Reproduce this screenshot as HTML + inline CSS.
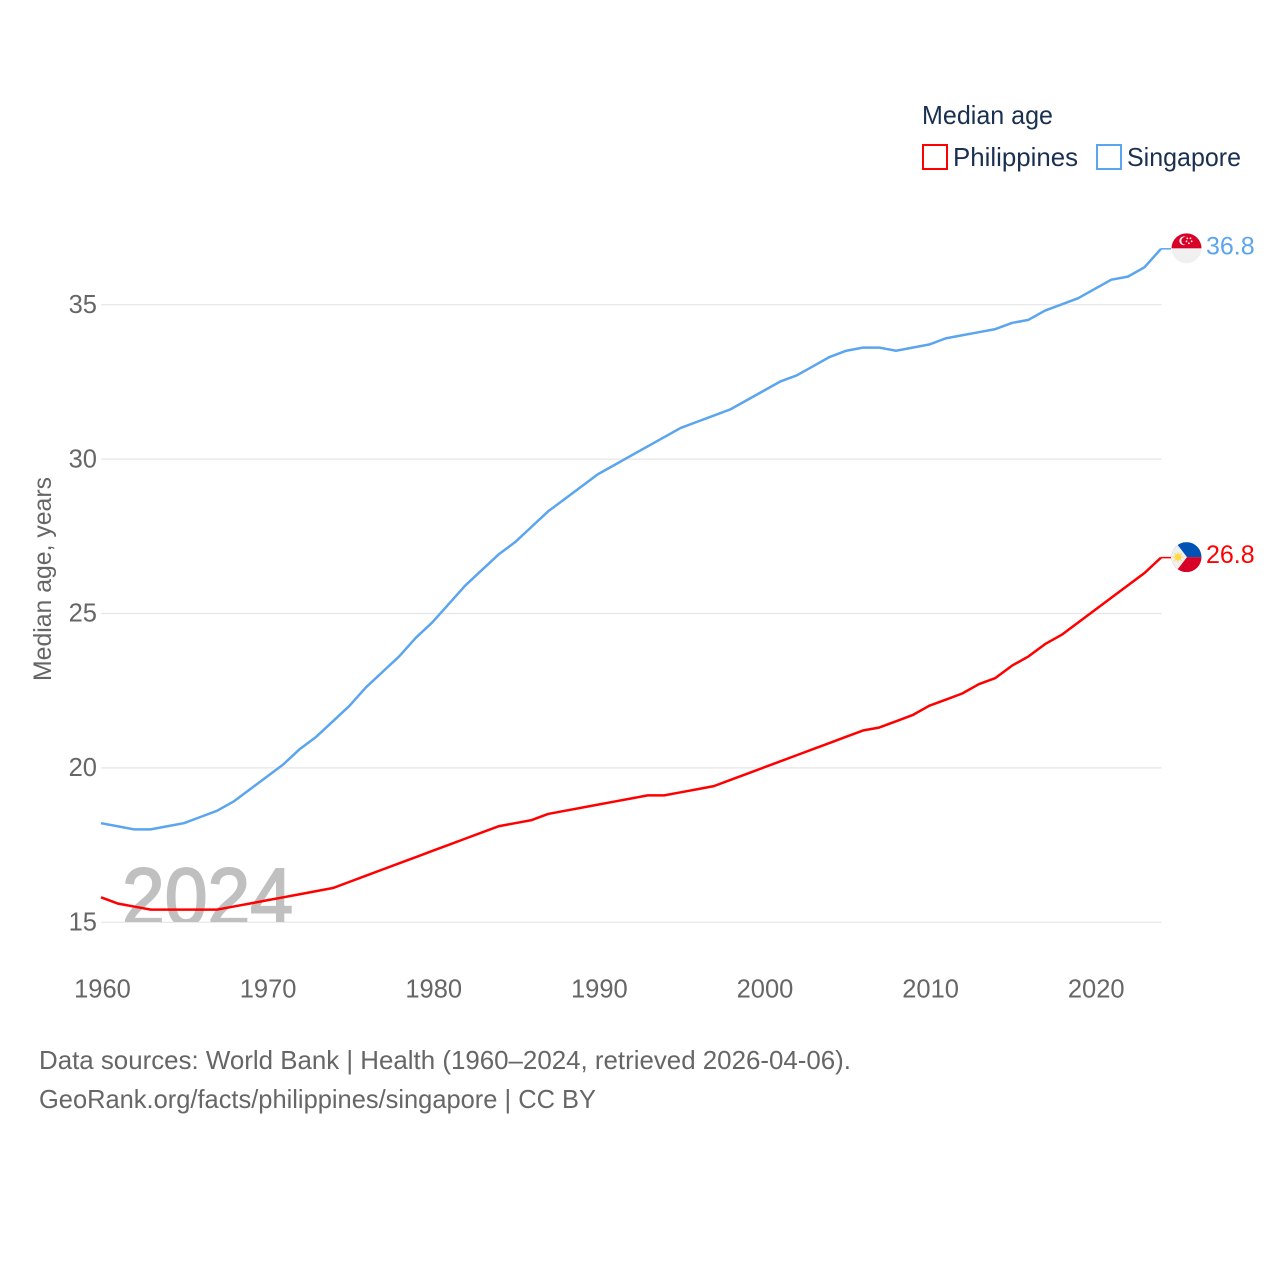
<!DOCTYPE html>
<html lang="en">
<head>
<meta charset="utf-8">
<title>Median age: Philippines and Singapore</title>
<style>
html,body{margin:0;padding:0;background:#fff}
svg{display:block}
text{font-family:"Liberation Sans",sans-serif}
</style>
</head>
<body>
<svg id="chart" xmlns="http://www.w3.org/2000/svg" width="1280" height="1280" viewBox="0 0 1280 1280">
  <defs>
    <clipPath id="plot-clip"><rect x="60" y="780" width="400" height="142"/></clipPath>
    <clipPath id="flag-clip"><circle cx="0" cy="0" r="15"/></clipPath>
  </defs>
  <rect width="1280" height="1280" fill="#fff"/>

  <g id="grid"></g>
  <g clip-path="url(#plot-clip)">
    <text x="122" y="925" font-size="82" fill="#c0c0c0" stroke="#c0c0c0" stroke-width="2" textLength="171" lengthAdjust="spacingAndGlyphs">2024</text>
  </g>
  <g id="y-ticks"></g>
  <g id="x-ticks"></g>
  <g id="series"></g>

  <text transform="translate(51,681) rotate(-90)" font-size="25" fill="#666" textLength="204" lengthAdjust="spacingAndGlyphs">Median age, years</text>

  <g>
    <text x="922" y="124" font-size="26" fill="#1a3050" textLength="131" lengthAdjust="spacingAndGlyphs">Median age</text>
    <g>
      <rect x="923" y="145" width="24" height="24" fill="none" stroke="#ff0000" stroke-width="2"/>
      <text x="953" y="166" font-size="26" fill="#1a3050" textLength="125" lengthAdjust="spacingAndGlyphs">Philippines</text>
    </g>
    <g>
      <rect x="1097" y="145" width="24" height="24" fill="none" stroke="#5ba5ee" stroke-width="2"/>
      <text x="1127" y="166" font-size="26" fill="#1a3050" textLength="114" lengthAdjust="spacingAndGlyphs">Singapore</text>
    </g>
  </g>

  <g id="flag-singapore">
    <g clip-path="url(#flag-clip)">
      <rect x="-15" y="-15" width="30" height="30" fill="#f0f0f0"/>
      <rect x="-15" y="-15" width="30" height="15" fill="#d80027"/>
      <circle cx="-2.8" cy="-7.5" r="4.4" fill="#f0f0f0"/>
      <circle cx="-1.1" cy="-7.5" r="4" fill="#d80027"/>
      <circle cx="0.8" cy="-10" r="0.9" fill="#f0f0f0"/>
      <circle cx="4" cy="-10" r="0.9" fill="#f0f0f0"/>
      <circle cx="5.2" cy="-7" r="0.9" fill="#f0f0f0"/>
      <circle cx="2.4" cy="-5" r="0.9" fill="#f0f0f0"/>
      <circle cx="0" cy="-7" r="0.9" fill="#f0f0f0"/>
    </g>
  </g>

  <g id="flag-philippines">
    <g clip-path="url(#flag-clip)">
      <rect x="-15" y="-15" width="30" height="15" fill="#0052b4"/>
      <rect x="-15" y="0" width="30" height="15" fill="#d80027"/>
      <polygon points="-15,-15 -11,-15 0.5,0 -11,15 -15,15" fill="#f0f0f0"/>
      <circle cx="-8.5" cy="0" r="3.2" fill="#ffda44"/>
      <path d="M-8.5-5.2V5.2M-13.7 0H-3.3M-12.2-3.7L-4.8 3.7M-12.2 3.7L-4.8-3.7" stroke="#ffda44" stroke-width="1"/>
    </g>
  </g>

  <g id="end-labels"></g>

  <g>
    <text x="39" y="1069" font-size="26" fill="#666" textLength="812" lengthAdjust="spacingAndGlyphs">Data sources: World Bank | Health (1960–2024, retrieved 2026-04-06).</text>
    <text x="39" y="1108" font-size="26" fill="#666" textLength="557" lengthAdjust="spacingAndGlyphs">GeoRank.org/facts/philippines/singapore | CC BY</text>
  </g>
</svg>

<script>
const years = [1960,1961,1962,1963,1964,1965,1966,1967,1968,1969,1970,1971,1972,1973,1974,1975,1976,1977,1978,1979,1980,1981,1982,1983,1984,1985,1986,1987,1988,1989,1990,1991,1992,1993,1994,1995,1996,1997,1998,1999,2000,2001,2002,2003,2004,2005,2006,2007,2008,2009,2010,2011,2012,2013,2014,2015,2016,2017,2018,2019,2020,2021,2022,2023,2024];
const singaporeValues = [18.2,18.1,18.0,18.0,18.1,18.2,18.4,18.6,18.9,19.3,19.7,20.1,20.6,21.0,21.5,22.0,22.6,23.1,23.6,24.2,24.7,25.3,25.9,26.4,26.9,27.3,27.8,28.3,28.7,29.1,29.5,29.8,30.1,30.4,30.7,31.0,31.2,31.4,31.6,31.9,32.2,32.5,32.7,33.0,33.3,33.5,33.6,33.6,33.5,33.6,33.7,33.9,34.0,34.1,34.2,34.4,34.5,34.8,35.0,35.2,35.5,35.8,35.9,36.2,36.8];
const philippinesValues = [15.8,15.6,15.5,15.4,15.4,15.4,15.4,15.4,15.5,15.6,15.7,15.8,15.9,16.0,16.1,16.3,16.5,16.7,16.9,17.1,17.3,17.5,17.7,17.9,18.1,18.2,18.3,18.5,18.6,18.7,18.8,18.9,19.0,19.1,19.1,19.2,19.3,19.4,19.6,19.8,20.0,20.2,20.4,20.6,20.8,21.0,21.2,21.3,21.5,21.7,22.0,22.2,22.4,22.7,22.9,23.3,23.6,24.0,24.3,24.7,25.1,25.5,25.9,26.3,26.8];
const yTickValues = [15,20,25,30,35];
const xTickValues = [1960,1970,1980,1990,2000,2010,2020];

const NS = 'http://www.w3.org/2000/svg';
function xScale(year) { return 101 + (year - 1960) * (1161 - 101) / 64; }
function yScale(value) { return 922 - (value - 15) * 30.88; }

const gridGroup = document.getElementById('grid');
const yTickGroup = document.getElementById('y-ticks');
const xTickGroup = document.getElementById('x-ticks');
const seriesGroup = document.getElementById('series');
const endLabelGroup = document.getElementById('end-labels');

yTickValues.forEach(function (tick) {
  const line = document.createElementNS(NS, 'line');
  
  
  line.setAttribute('x1', xScale(1960));
  line.setAttribute('x2', xScale(2024) + 0.5);
  line.setAttribute('y1', yScale(tick) + 0.3);
  line.setAttribute('y2', yScale(tick) + 0.3);
  line.setAttribute('stroke', '#e6e6e6');
  line.setAttribute('stroke-width', '1.2');
  gridGroup.appendChild(line);

  const label = document.createElementNS(NS, 'text');
  
  
  label.setAttribute('x', 97);
  label.setAttribute('y', yScale(tick) + 8.5);
  label.setAttribute('text-anchor', 'end');
  label.setAttribute('font-size', '25.5');
  label.setAttribute('fill', '#666');
  label.textContent = tick;
  yTickGroup.appendChild(label);
});

xTickValues.forEach(function (tick) {
  const label = document.createElementNS(NS, 'text');
  
  
  label.setAttribute('x', xScale(tick) + 1.5);
  label.setAttribute('y', 997.5);
  label.setAttribute('text-anchor', 'middle');
  label.setAttribute('font-size', '25.5');
  label.setAttribute('fill', '#666');
  label.textContent = tick;
  xTickGroup.appendChild(label);
});

function drawSeries(name, values, color, flagId) {
  const last = values.length - 1;
  const points = values.map(function (value, i) {
    return xScale(years[i]).toFixed(2) + ',' + yScale(value).toFixed(2);
  }).join(' ');

  const line = document.createElementNS(NS, 'polyline');
  
  
  line.setAttribute('points', points);
  line.setAttribute('fill', 'none');
  line.setAttribute('stroke', color);
  line.setAttribute('stroke-width', '2.5');
  line.setAttribute('stroke-linejoin', 'round');
  seriesGroup.appendChild(line);

  const endX = xScale(years[last]);
  const endY = yScale(values[last]);

  const connector = document.createElementNS(NS, 'line');
  
  
  connector.setAttribute('x1', endX);
  connector.setAttribute('x2', endX + 10);
  connector.setAttribute('y1', endY);
  connector.setAttribute('y2', endY);
  connector.setAttribute('stroke', color);
  connector.setAttribute('stroke-width', '1.5');
  seriesGroup.appendChild(connector);

  document.getElementById(flagId).setAttribute('transform', 'translate(' + (endX + 25.5) + ',' + (endY - 0.5) + ')');

  const label = document.createElementNS(NS, 'text');
  
  
  label.setAttribute('x', endX + 45);
  label.setAttribute('y', endY + 5.5);
  label.setAttribute('font-size', '25');
  label.setAttribute('fill', color);
  label.textContent = values[last].toFixed(1);
  endLabelGroup.appendChild(label);
}

drawSeries('philippines', philippinesValues, '#ff0000', 'flag-philippines');
drawSeries('singapore', singaporeValues, '#5ba5ee', 'flag-singapore');
</script>
</body>
</html>
